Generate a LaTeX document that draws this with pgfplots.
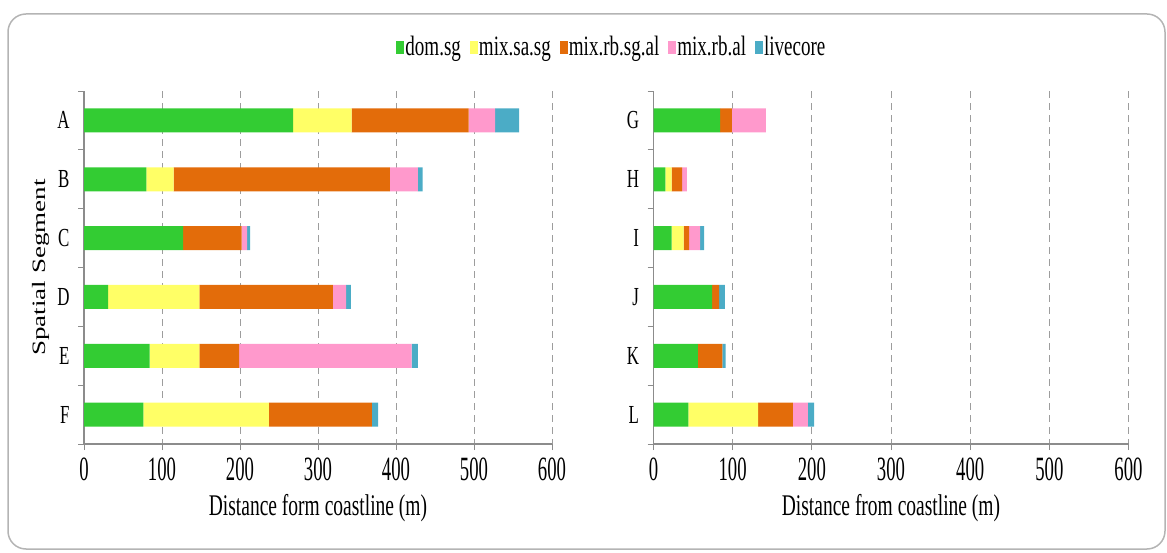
\documentclass[border=0pt]{standalone}
\usepackage{pgfplots}
\pgfplotsset{compat=1.18}
\usepackage{pgfplotstable}
\usepackage{fontspec}
\setmainfont{Liberation Serif}
\usepackage{graphicx}

\definecolor{cdom}{HTML}{33CC33}
\definecolor{csasg}{HTML}{FFFF66}
\definecolor{crbsgal}{HTML}{E36C0A}
\definecolor{crbal}{HTML}{FF99CC}
\definecolor{clive}{HTML}{4BACC6}
\definecolor{axgray}{HTML}{8C8C8C}
\definecolor{framegray}{HTML}{B4B4B4}

% narrow (horizontally condensed) text
\newcommand\sq[2]{\scalebox{#1}[1]{#2}}

% segments A--F
\pgfplotstableread{
seg dom sasg rbsgal rbal live
0 268 75 150 34 31
1 80 35 277 36 6
2 127 0 75 7 4
3 31 117 171 17 6
4 84 64 51 221 8
5 76 161 132 0 8
}\leftdata

% segments G--L
\pgfplotstableread{
seg dom sasg rbsgal rbal live
0 84 0 15 43 0
1 15 8 13 6 0
2 23 15 7 14 5
3 74 0 9 0 7
4 56 0 31 0 4
5 44 88 44 19 8
}\rightdata

\pgfplotsset{
  segpanel/.style={
    xbar stacked, bar width=24pt,
    scale only axis, height=353pt,
    xmin=0, xmax=600, ymin=-0.5, ymax=5.5, y dir=reverse,
    axis x line*=bottom, axis y line*=left,
    axis line style={axgray, line width=1.2pt},
    xtick={0,100,...,600},
    xmajorgrids,
    grid style={axgray!85, line width=0.8pt, dash pattern=on 7pt off 5pt},
    ytick={0,...,5},
    minor ytick={-0.5,0.5,...,5.5},
    major y tick style={draw=none},
    tick align=outside, major tick length=6pt, minor tick length=6pt,
    tick style={axgray, line width=1pt},
    /pgf/number format/assume math mode=true,
    xticklabel={\sq{0.55}{\pgfmathprintnumber{\tick}}},
    xticklabel style={font=\fontsize{34}{36}\selectfont, yshift=-4pt},
    yticklabel style={font=\fontsize{26}{28}\selectfont, xshift=-5pt},
    xlabel style={font=\fontsize{30}{32}\selectfont,
      at={(axis description cs:0.5,-0.181)}, anchor=center},
    every axis plot/.append style={draw=none},
  },
}

\begin{document}
\begin{tikzpicture}
\path (0pt,0pt) rectangle (1167pt,552pt);
\draw[framegray, line width=1.5pt, rounded corners=18pt]
  (8pt,3pt) rectangle (1165pt,538pt);

\begin{axis}[segpanel, width=468pt,
  at={(84pt,108pt)}, anchor=south west,
  yticklabels={\sq{0.65}{A},\sq{0.65}{B},\sq{0.65}{C},\sq{0.65}{D},\sq{0.65}{E},\sq{0.65}{F}},
  xlabel={\sq{0.65}{Distance form coastline (m)}},
  ylabel={\scalebox{1}[0.7]{Spatial Segment}},
  ylabel style={font=\fontsize{27}{29}\selectfont,
    at={(axis description cs:-0.092,0.5)}, anchor=center},
  legend style={at={(axis description cs:1.128,1.125)}, anchor=center,
    draw=none, fill=none, legend columns=-1,
    font=\fontsize{28}{30}\selectfont,
    /tikz/every even column/.append style={column sep=7pt},
    /tikz/every odd column/.append style={column sep=-1pt}},
  legend image code/.code={\fill[#1] (0pt,-7pt) rectangle (8pt,6pt);},
]
\addplot[fill=cdom] table[x=dom, y=seg] {\leftdata};
\addplot[fill=csasg] table[x=sasg, y=seg] {\leftdata};
\addplot[fill=crbsgal] table[x=rbsgal, y=seg] {\leftdata};
\addplot[fill=crbal] table[x=rbal, y=seg] {\leftdata};
\addplot[fill=clive] table[x=live, y=seg] {\leftdata};
\addlegendentry{\sq{0.68}{dom.sg}}
\addlegendentry{\sq{0.68}{mix.sa.sg}}
\addlegendentry{\sq{0.68}{mix.rb.sg.al}}
\addlegendentry{\sq{0.68}{mix.rb.al}}
\addlegendentry{\sq{0.68}{livecore}}
\end{axis}

\begin{axis}[segpanel, width=475pt,
  at={(653.5pt,108pt)}, anchor=south west,
  yticklabels={\sq{0.65}{G},\sq{0.65}{H},\sq{0.65}{I},\sq{0.65}{J},\sq{0.65}{K},\sq{0.65}{L}},
  xlabel={\sq{0.65}{Distance from coastline (m)}},
]
\addplot[fill=cdom] table[x=dom, y=seg] {\rightdata};
\addplot[fill=csasg] table[x=sasg, y=seg] {\rightdata};
\addplot[fill=crbsgal] table[x=rbsgal, y=seg] {\rightdata};
\addplot[fill=crbal] table[x=rbal, y=seg] {\rightdata};
\addplot[fill=clive] table[x=live, y=seg] {\rightdata};
\end{axis}
\end{tikzpicture}
\end{document}
